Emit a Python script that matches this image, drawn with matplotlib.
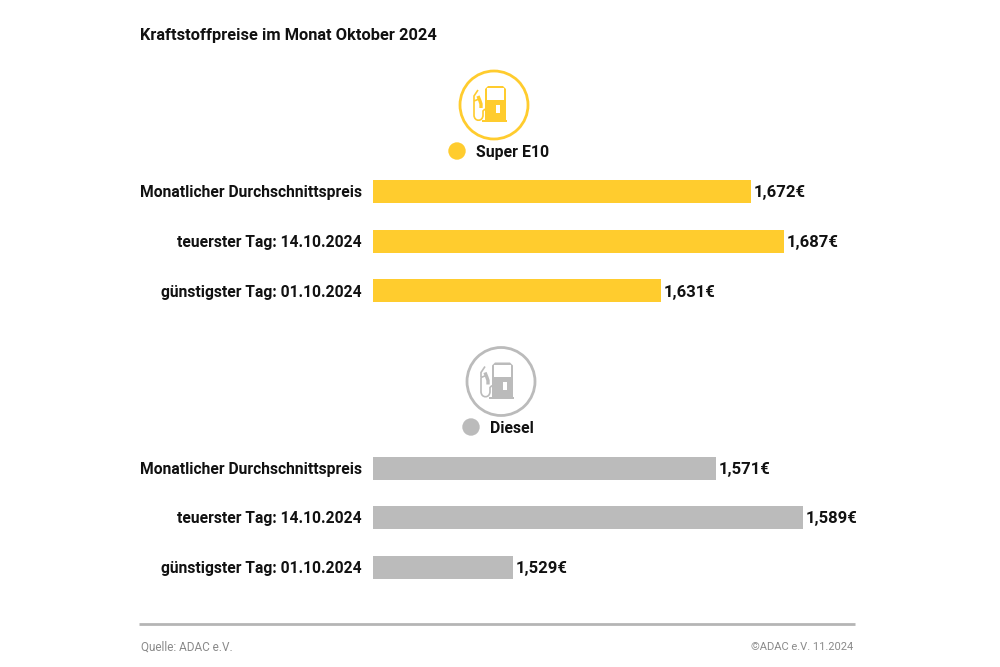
import matplotlib
matplotlib.use("Agg")
import matplotlib.pyplot as plt
from matplotlib.patches import Circle, Rectangle, PathPatch
from matplotlib.path import Path

plt.rcParams['font.family'] = ['Roboto', 'DejaVu Sans']

title = "Kraftstoffpreise im Monat Oktober 2024"
categories = ["Monatlicher Durchschnittspreis", "teuerster Tag: 14.10.2024", "günstigster Tag: 01.10.2024"]
e10_values = [1.672, 1.687, 1.631]
diesel_values = [1.571, 1.589, 1.529]
e10_name = "Super E10"
diesel_name = "Diesel"
source = "Quelle: ADAC e.V."
copyright_text = "©ADAC e.V. 11.2024"
YELLOW = "#FFCC2E"
GREY = "#BBBBBB"
TXT = "#111111"

W, H = 1000, 667
fig = plt.figure(figsize=(W/100, H/100), dpi=100, facecolor="white")

ov = fig.add_axes([0, 0, 1, 1])
ov.set_xlim(0, W); ov.set_ylim(H, 0); ov.axis("off")


def panel(values, color, top, bottom, px_per_unit):
    ax = fig.add_axes([373/W, 1-bottom/H, 500/W, (bottom-top)/H])
    ax.set_xlim(1.5, 1.5 + 500/px_per_unit)
    ax.set_ylim(bottom, top)
    centers = [top + 24.5 + 49.5*i for i in range(3)]
    ax.barh(centers, values, left=0, height=23, color=color, linewidth=0)
    ax.axis("off")
    for c, v, lab in zip(centers, values, categories):
        ax.annotate(f"{v:.3f}€".replace(".", ","), (v, c), xytext=(3, 0), textcoords="offset pixels",
                    va="center_baseline", ha="left", fontsize=12, fontweight="bold", color=TXT)
        ov.text(362, c, lab, ha="right", va="center_baseline", fontsize=11.25, fontweight="bold", color=TXT)


panel(e10_values, YELLOW, 167, 315, 2197)
panel(diesel_values, GREY, 443.5, 592, 4833)


def pump_icon(cx, cy, color, ring_lw=2.0):
    ov.add_patch(Circle((cx, cy), 34, fill=False, ec=color, lw=ring_lw))
    x0, x1 = cx-9, cx+12
    verts = [(x0, cy+16), (x0, cy-16), (x0+3, cy-19), (x1-3, cy-19), (x1, cy-16), (x1, cy+16), (x0, cy+16)]
    codes = [Path.MOVETO, Path.LINETO, Path.LINETO, Path.LINETO, Path.LINETO, Path.LINETO, Path.CLOSEPOLY]
    ov.add_patch(PathPatch(Path(verts, codes), fc=color, ec="none"))
    ov.add_patch(Rectangle((x0+2, cy-17), 17, 12, fc="white", ec="none"))
    ov.add_patch(Rectangle((cx+2, cy), 4, 8, fc="white", ec="none"))
    ov.add_patch(Rectangle((cx-12, cy+15), 25, 2, fc=color, ec="none"))
    # hose loop
    hose = [(cx-20, cy-4), (cx-20, cy+10), (cx-20, cy+17), (cx-11, cy+17), (cx-11, cy+10),
            (cx-11, cy+6), (cx-9, cy+4)]
    hc = [Path.MOVETO, Path.LINETO, Path.CURVE4, Path.CURVE4, Path.CURVE4, Path.LINETO, Path.LINETO]
    ov.add_patch(PathPatch(Path(hose, hc), fill=False, ec=color, lw=1.2))
    # nozzle
    nozzle = [(cx-20, cy-4), (cx-20, cy-9), (cx-16, cy-15)]
    ov.add_patch(PathPatch(Path(nozzle, [Path.MOVETO, Path.LINETO, Path.LINETO]), fill=False, ec=color, lw=1.2))
    grip = [(cx-16, cy-9), (cx-14, cy-4), (cx-13, cy-1), (cx-13, cy+3)]
    ov.add_patch(PathPatch(Path(grip, [Path.MOVETO, Path.LINETO, Path.LINETO, Path.LINETO]), fill=False, ec=color, lw=2.4))
    ov.add_patch(PathPatch(Path([(cx-20, cy-4), (cx-15, cy-6)], [Path.MOVETO, Path.LINETO]), fill=False, ec=color, lw=1.2))


pump_icon(494, 105, YELLOW)
pump_icon(501, 381.5, GREY)

ov.add_patch(Circle((457, 151), 8.7, fc=YELLOW, ec="none"))
ov.add_patch(Circle((471, 427), 8.7, fc=GREY, ec="none"))
ov.text(476, 151, e10_name, ha="left", va="center_baseline", fontsize=11.4, fontweight="bold", color=TXT)
ov.text(490, 427, diesel_name, ha="left", va="center_baseline", fontsize=11.3, fontweight="bold", color=TXT)

ov.text(140, 34, title, ha="left", va="center_baseline", fontsize=11.8, fontweight="bold", color=TXT)

ov.plot([139, 855], [624, 624], color="#B5B5B5", lw=2, solid_capstyle="butt")
ov.text(141, 646, source, ha="left", va="center_baseline", fontsize=8.5, color="#8A8A8A")
ov.text(853, 646, copyright_text, ha="right", va="center_baseline", fontsize=8.0, color="#8A8A8A")

fig.savefig("out.png", dpi=100)
